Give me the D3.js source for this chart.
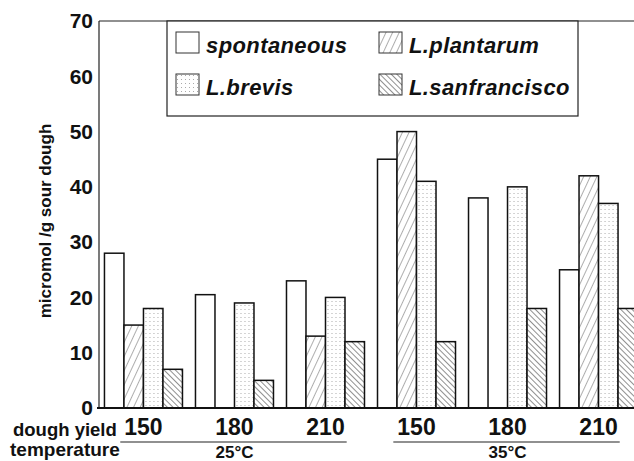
<!DOCTYPE html>
<meta charset="utf-8">
<head>
    <title>Sour dough bar chart</title>
    <style>
        body { margin: 0; background: #fff; }
        text { font-family: "Liberation Sans", Arial, sans-serif; font-weight: bold; fill: #111; }
    </style>
</head>
<body>
    <script src="https://d3js.org/d3.v7.min.js"></script>
    <svg id="chart"></svg>
    <script>
        // data
        var yields = ["150", "180", "210", "150", "180", "210"];
        var temps = ["25°C", "25°C", "25°C", "35°C", "35°C", "35°C"];
        var series = ["spontaneous", "L.plantarum", "L.brevis", "L.sanfrancisco"];
        var spontaneous   = [28, 20.5, 23, 45, 38, 25];
        var plantarum     = [15, 0, 13, 50, 0, 42];
        var brevis        = [18, 19, 20, 41, 40, 37];
        var sanfrancisco  = [7, 5, 12, 12, 18, 18];
        var yTicks = [0, 10, 20, 30, 40, 50, 60, 70];

        var values = [spontaneous, plantarum, brevis, sanfrancisco];

        var width = 634, height = 461;
        var svg = d3.select("#chart").attr("width", width).attr("height", height);

        // patterns
        var defs = svg.append("defs");
        var p1 = defs.append("pattern").attr("id", "hatchA")
            .attr("patternUnits", "userSpaceOnUse").attr("width", 6).attr("height", 10)
            .attr("patternTransform", "rotate(25)");
        p1.append("rect").attr("width", 6).attr("height", 10).attr("fill", "#fff");
        p1.append("line").attr("x1", 0).attr("y1", 0).attr("x2", 0).attr("y2", 10)
            .attr("stroke", "#333").attr("stroke-width", 0.8);

        var p2 = defs.append("pattern").attr("id", "hatchB")
            .attr("patternUnits", "userSpaceOnUse").attr("width", 4).attr("height", 10)
            .attr("patternTransform", "rotate(-45)");
        p2.append("rect").attr("width", 4).attr("height", 10).attr("fill", "#fff");
        p2.append("line").attr("x1", 0).attr("y1", 0).attr("x2", 0).attr("y2", 10)
            .attr("stroke", "#222").attr("stroke-width", 1);

        var p3 = defs.append("pattern").attr("id", "dots")
            .attr("patternUnits", "userSpaceOnUse").attr("width", 4).attr("height", 4);
        p3.append("rect").attr("width", 4).attr("height", 4).attr("fill", "#fff");
        p3.append("rect").attr("x", 1).attr("y", 1).attr("width", 1).attr("height", 1).attr("fill", "#aaa");

        var fills = ["#fff", "url(#hatchA)", "url(#dots)", "url(#hatchB)"];

        // scales
        var y = d3.scaleLinear().domain([0, 70]).range([408, 21]);
        var x0 = d3.scaleBand().domain(d3.range(yields.length)).range([99, 643])
            .paddingInner(0.143).paddingOuter(0.06);
        var x1 = d3.scaleBand().domain(d3.range(series.length)).range([0, x0.bandwidth()]);

        // bars
        var groups = svg.append("g").selectAll("g")
            .data(d3.range(yields.length))
            .join("g")
            .attr("transform", function(i) { return "translate(" + x0(i) + ",0)"; });

        groups.selectAll("rect")
            .data(function(i) { return values.map(function(v, s) { return { s: s, v: v[i] }; }); })
            .join("rect")
            .filter(function(d) { return d.v > 0; })
            .attr("x", function(d) { return x1(d.s); })
            .attr("y", function(d) { return y(d.v); })
            .attr("width", x1.bandwidth())
            .attr("height", function(d) { return y(0) - y(d.v); })
            .attr("fill", function(d) { return fills[d.s]; })
            .attr("stroke", "#111")
            .attr("stroke-width", 1.5);

        // axes frame
        svg.append("line").attr("x1", 99).attr("x2", 99).attr("y1", y(70)).attr("y2", y(0))
            .attr("stroke", "#222").attr("stroke-width", 1.2);
        svg.append("line").attr("x1", 99).attr("x2", width).attr("y1", y(70)).attr("y2", y(70))
            .attr("stroke", "#222").attr("stroke-width", 1.2);
        svg.append("line").attr("x1", 97).attr("x2", width).attr("y1", y(0)).attr("y2", y(0))
            .attr("stroke", "#111").attr("stroke-width", 1.8);

        // y tick labels
        svg.append("g").selectAll("text")
            .data(yTicks)
            .join("text")
            .attr("x", 93)
            .attr("y", function(d) { return y(d); })
            .attr("dy", "0.35em")
            .attr("text-anchor", "end")
            .style("font-size", "21px")
            .text(function(d) { return d; });

        // y title
        svg.append("text")
            .attr("transform", "translate(51,221) rotate(-90)")
            .attr("text-anchor", "middle")
            .style("font-size", "17px")
            .text("micromol /g sour dough");

        // bottom labels
        svg.append("text").attr("x", 13).attr("y", 436).style("font-size", "18.5px").text("dough yield");
        svg.append("text").attr("x", 10).attr("y", 456).style("font-size", "19px").text("temperature");

        var yl = svg.append("g").selectAll("text")
            .data(yields)
            .join("text")
            .attr("x", function(d, i) { return x0(i) + x0.bandwidth() / 2; })
            .attr("y", 435)
            .attr("text-anchor", "middle")
            .style("font-size", "23px")
            .text(function(d) { return d; });

        var tempGroups = Array.from(new Set(temps));
        tempGroups.forEach(function(t) {
            var idx = d3.range(temps.length).filter(function(i) { return temps[i] === t; });
            var first = yl.nodes()[idx[0]].getBBox();
            var last = yl.nodes()[idx[idx.length - 1]].getBBox();
            svg.append("line")
                .attr("x1", first.x - 4).attr("x2", last.x + last.width + 2)
                .attr("y1", 442).attr("y2", 442)
                .attr("stroke", "#222").attr("stroke-width", 1.2);
            var mid = idx[Math.floor(idx.length / 2)];
            svg.append("text")
                .attr("x", x0(mid) + x0.bandwidth() / 2)
                .attr("y", 458)
                .attr("text-anchor", "middle")
                .style("font-size", "17px")
                .text(t);
        });

        // legend
        var legend = svg.append("g").attr("transform", "translate(167,21)");
        legend.append("rect").attr("width", 411).attr("height", 95)
            .attr("fill", "#fff").attr("stroke", "#222").attr("stroke-width", 1.2);
        var items = legend.selectAll("g.item")
            .data(series)
            .join("g")
            .attr("class", "item")
            .attr("transform", function(d, i) {
                return "translate(" + (i % 2 === 0 ? 9 : 212) + "," + (i < 2 ? 11 : 53) + ")";
            });
        items.append("rect")
            .attr("width", 23).attr("height", 21)
            .attr("fill", function(d, i) { return fills[i]; })
            .attr("stroke", "#333").attr("stroke-width", 1);
        items.append("text")
            .attr("x", 30).attr("y", 21)
            .style("font-size", "22px")
            .style("font-style", "italic")
            .style("letter-spacing", "0.4px")
            .text(function(d) { return d; });
    </script>
</body>
</html>
